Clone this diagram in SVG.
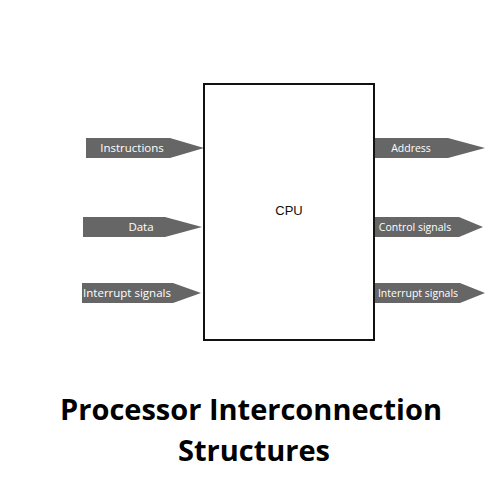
<svg xmlns="http://www.w3.org/2000/svg" width="500" height="500" viewBox="0 0 500 500">
<style>
.arr{fill:#666666}
.lbl{font-family:"Open Sans","Liberation Sans",sans-serif;font-size:11.5px;fill:#ffffff;text-anchor:middle}
.sm{font-size:10.5px}
.box{fill:#ffffff;stroke:#111111;stroke-width:2}
.title{font-family:"Open Sans","Liberation Sans",sans-serif;font-weight:bold;font-size:29px;fill:#000000;text-anchor:middle}
</style>
<rect width="500" height="500" fill="#ffffff"/>
<g id="connectors">
<g id="in-instructions"><polygon class="arr" points="86,138 170,138 204,148 170,158 86,158"/><text class="lbl" x="132" y="152">Instructions</text></g>
<g id="in-data"><polygon class="arr" points="83,217 165,217 202,227 165,237 83,237"/><text class="lbl" x="141" y="231">Data</text></g>
<g id="in-interrupt"><polygon class="arr" points="82,283 173,283 201,293 173,303 82,303"/><text class="lbl" x="127" y="297">Interrupt signals</text></g>
<g id="out-address"><polygon class="arr" points="375,138 448,138 485,148 448,158 375,158"/><text class="lbl sm" x="411" y="151.5">Address</text></g>
<g id="out-control"><polygon class="arr" points="375,217 459,217 483,227 459,237 375,237"/><text class="lbl sm" x="415" y="230.5">Control signals</text></g>
<g id="out-interrupt"><polygon class="arr" points="375,283 460,283 485,293 460,303 375,303"/><text class="lbl sm" x="418" y="296.5">Interrupt signals</text></g>
</g>
<g id="cpu"><rect class="box" x="204" y="84" width="170" height="256"/><text x="289" y="215" font-family="Liberation Sans, sans-serif" font-size="13" text-anchor="middle" fill="#111">CPU</text></g>
<g id="title"><text class="title" x="251" y="420">Processor Interconnection</text><text class="title" x="254" y="461">Structures</text></g>
</svg>
